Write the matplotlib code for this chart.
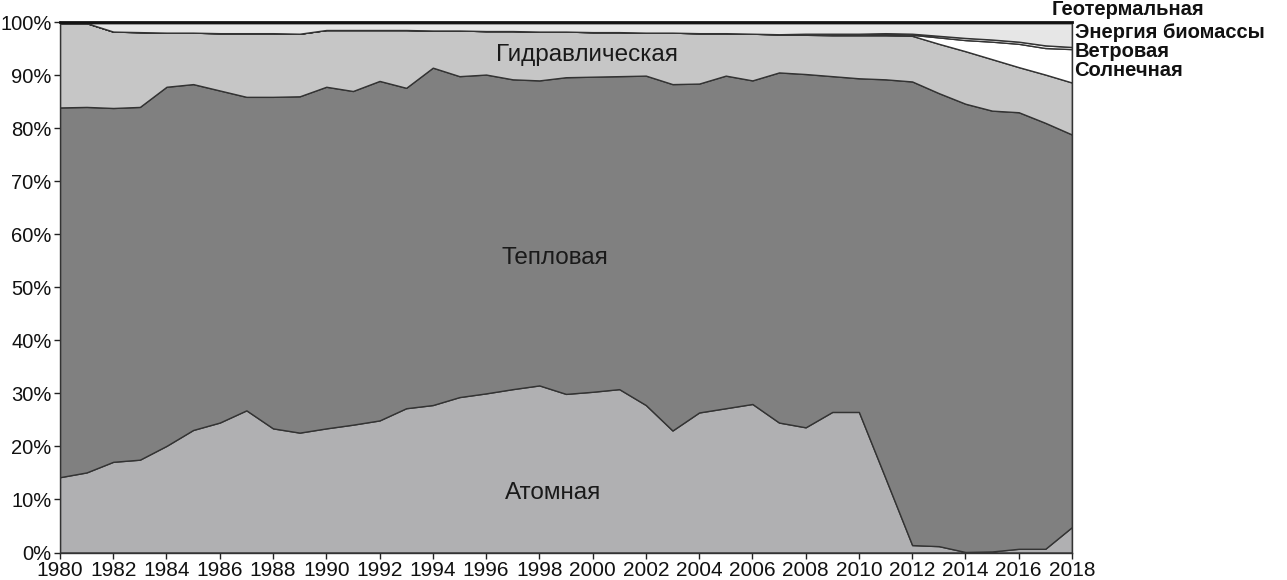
import matplotlib
matplotlib.use("Agg")
import matplotlib.pyplot as plt

plt.rcParams['font.family'] = ['Liberation Sans', 'DejaVu Sans']

# ── Data (shares of generation, %) ───────────────────────────────────────────
years = list(range(1980, 2019))

nuclear = [14.2, 15.1, 17.1, 17.5, 20.1, 23.1, 24.5, 26.8, 23.4, 22.6,
           23.4, 24.1, 24.9, 27.2, 27.8, 29.3, 30.0, 30.8, 31.5, 29.9,
           30.3, 30.8, 27.8, 23.0, 26.4, 27.2, 28.0, 24.5, 23.6, 26.5,
           26.5, 14.0, 1.4, 1.2, 0.1, 0.2, 0.7, 0.7, 4.8]

# cumulative top of thermal band (nuclear + thermal)
thermal_top = [83.9, 84.0, 83.8, 84.0, 87.8, 88.3, 87.1, 85.9, 85.9, 86.0,
               87.8, 87.0, 88.9, 87.6, 91.4, 89.8, 90.1, 89.2, 89.0, 89.6,
               89.7, 89.8, 89.9, 88.3, 88.4, 89.9, 89.0, 90.5, 90.2, 89.8,
               89.4, 89.2, 88.8, 86.6, 84.6, 83.3, 83.0, 81.0, 78.8]

# cumulative top of hydro band
hydro_top = [99.8, 99.8, 98.2, 98.1, 98.0, 98.0, 97.9, 97.9, 97.9, 97.8,
             98.5, 98.5, 98.5, 98.5, 98.4, 98.4, 98.3, 98.3, 98.2, 98.2,
             98.1, 98.1, 98.0, 98.0, 97.9, 97.9, 97.8, 97.7, 97.6, 97.5,
             97.5, 97.5, 97.4, 95.9, 94.5, 93.0, 91.5, 90.1, 88.6]

solar = [0.0] * 28 + [0.1, 0.1, 0.1, 0.2, 0.2, 1.2, 2.1, 3.3, 4.4, 5.0, 6.3]
wind = [0.0] * 28 + [0.1, 0.2, 0.2, 0.2, 0.2, 0.3, 0.4, 0.4, 0.4, 0.5, 0.4]
geothermal = [0.2] * len(years)

thermal = [t - n for t, n in zip(thermal_top, nuclear)]
hydro = [h - t for h, t in zip(hydro_top, thermal_top)]
biomass = [100 - g - h - s - w for g, h, s, w in
           zip(geothermal, hydro_top, solar, wind)]

series = [nuclear, thermal, hydro, solar, wind, biomass, geothermal]
colors = ["#b0b0b2", "#808080", "#c6c6c6", "#ffffff", "#f4f4f4", "#e6e6e6", "#111111"]

inside_labels = [("Атомная", 1998.5, 11.2), ("Тепловая", 1998.6, 55.5),
                 ("Гидравлическая", 1999.8, 93.8)]
side_labels = [("Геотермальная", 2017.25, 102.3), ("Энергия биомассы", 2018.1, 98.0),
               ("Ветровая", 2018.1, 94.5), ("Солнечная", 2018.1, 90.8)]

# ── Chart ─────────────────────────────────────────────────────────────────────
fig = plt.figure(figsize=(12.87, 5.80), dpi=100)
ax = fig.add_axes([0.0466, 0.0474, 0.7863, 0.9146])

ax.stackplot(years, *series, colors=colors, edgecolor="#333333", linewidth=1.0)

ax.set_xlim(1980, 2018)
ax.set_ylim(0, 100)
ax.set_xticks(range(1980, 2019, 2))
ax.set_yticks(range(0, 101, 10))
ax.set_yticklabels([f"{v}%" for v in range(0, 101, 10)])
ax.tick_params(axis="both", labelsize=15, length=4, width=1, colors="#222222",
               labelcolor="#111111")
ax.tick_params(axis="y", pad=2, labelsize=14.5)
ax.tick_params(axis="x", pad=2)
for side in ("left", "bottom", "right"):
    ax.spines[side].set_linewidth(1.0)
    ax.spines[side].set_color("#333333")
ax.spines["top"].set_linewidth(2.0)
ax.spines["top"].set_color("#111111")

for text, x, y in inside_labels:
    ax.text(x, y, text, ha="center", va="center", fontsize=17.5, color="#1a1a1a")
for text, x, y in side_labels:
    ax.text(x, y, text, ha="left", va="center", fontsize=14.5, color="#111111",
            fontweight="bold", clip_on=False)

fig.savefig("out.png", dpi=100)
